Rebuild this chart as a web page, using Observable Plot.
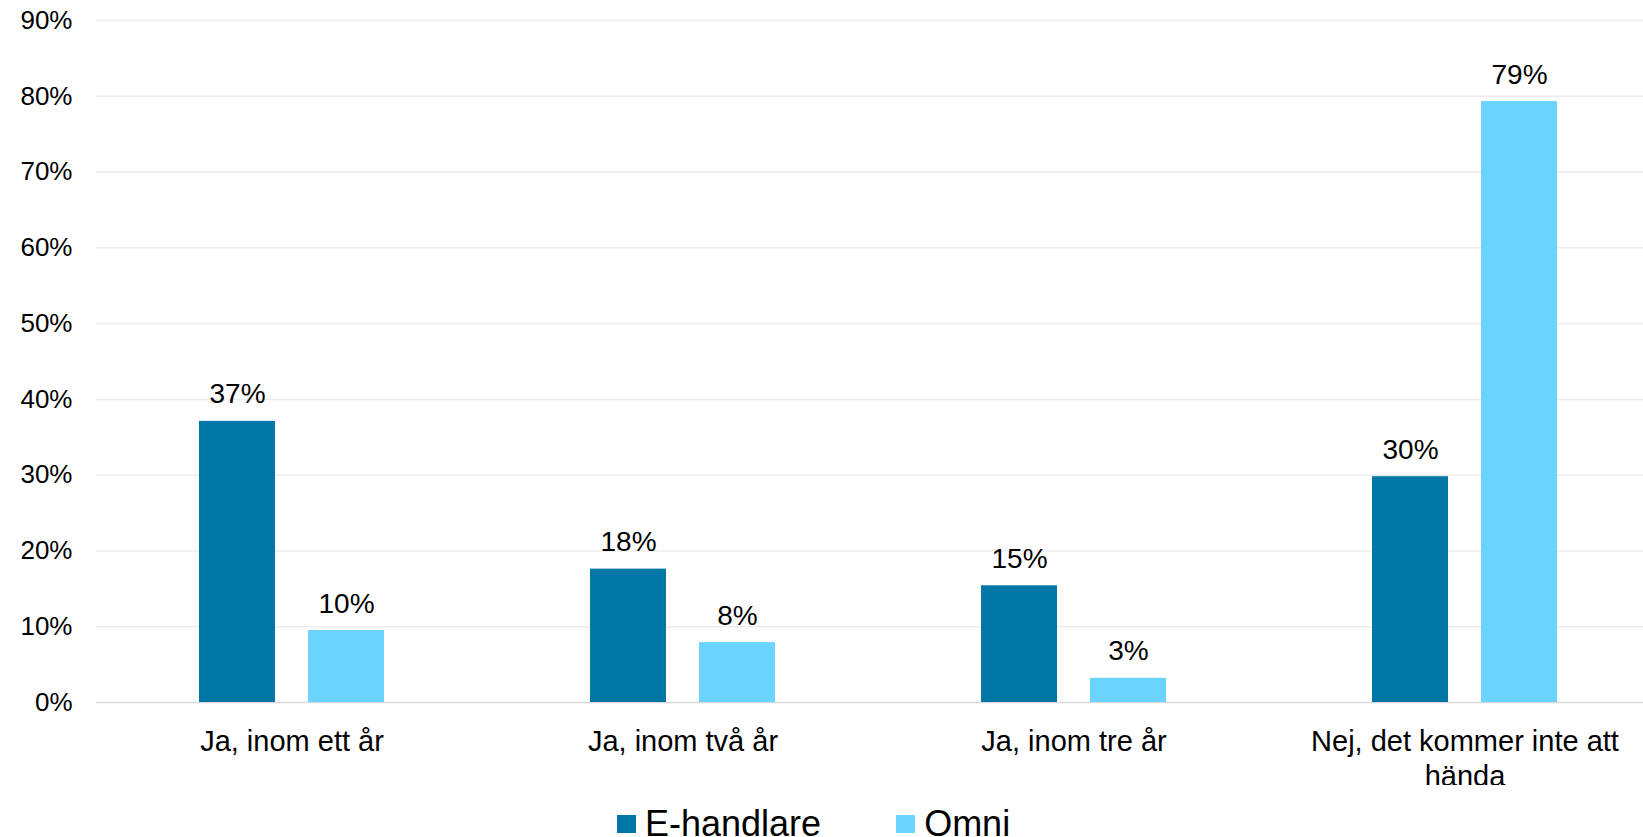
<!DOCTYPE html>
<html>
<head>
<meta charset="utf-8">
<script src="https://cdn.jsdelivr.net/npm/d3@7"></script>
<script src="https://cdn.jsdelivr.net/npm/@observablehq/plot@0.6"></script>
<style>
  html, body { margin: 0; padding: 0; background: #ffffff; overflow: hidden; }
  body { width: 1643px; height: 837px; position: relative; font-family: "Liberation Sans", Arial, sans-serif; }
  #chart { width: 1643px; height: 785px; overflow: hidden; }
  #chart svg { max-width: none !important; }
  #legend { position: absolute; top: 806px; left: 617px; display: flex; align-items: flex-start; font-size: 36px; line-height: 36px; color: #000; }
  #legend .item { display: flex; align-items: flex-start; }
  #legend .sw { width: 19px; height: 18px; margin-top: 9px; margin-right: 9px; }
  #legend .item + .item { margin-left: 75px; }
</style>
</head>
<body>
<div id="chart"></div>
<div id="legend"></div>
<script>
const categories = ["Ja, inom ett år", "Ja, inom två år", "Ja, inom tre år", "Nej, det kommer inte att hända"];
const series = ["E-handlare", "Omni"];
const eHandlare = [37.1, 17.6, 15.4, 29.8];
const omni = [9.5, 7.9, 3.2, 79.3];
const seriesColors = ["#0077a6", "#6bd3ff"];
const yTicks = [0, 10, 20, 30, 40, 50, 60, 70, 80, 90];

const values = [eHandlare, omni];
const data = [];
categories.forEach((c, i) => {
  series.forEach((s, j) => data.push({category: c, series: s, value: values[j][i]}));
});

const chart = Plot.plot({
  width: 1661,
  height: 785,
  marginLeft: 95,
  marginRight: 0,
  marginTop: 20,
  marginBottom: 83,
  style: {fontFamily: "'Liberation Sans', Arial, sans-serif", color: "#000", background: "#fff"},
  fx: {domain: categories, padding: 0, label: null},
  x: {domain: series, paddingInner: 0.3, paddingOuter: 0.93, axis: null},
  y: {domain: [0, 90], label: null},
  color: {domain: series, range: seriesColors},
  marks: [
    Plot.gridY(yTicks.filter(d => d > 0), {stroke: "#ececec", strokeOpacity: 1, strokeWidth: 1.5}),
    Plot.ruleY([0], {stroke: "#d9d9d9", strokeWidth: 1.5}),
    Plot.axisY(yTicks, {tickSize: 0, tickPadding: 24, tickFormat: d => d + "%", fontSize: 26, label: null}),
    Plot.axisFx({anchor: "bottom", tickSize: 0, tickPadding: 24, fontSize: 29, lineWidth: 13, lineHeight: 1.2, label: null}),
    Plot.barY(data, {fx: "category", x: "series", y: "value", fill: "series"}),
    Plot.text(data, {fx: "category", x: "series", y: "value", text: d => Math.round(d.value) + "%", lineAnchor: "bottom", dy: -18, fontSize: 28, fill: "#000"})
  ]
});
chart.style.maxWidth = "none";
chart.style.height = "785px";
chart.style.width = "1661px";
document.getElementById("chart").appendChild(chart);

const legend = document.getElementById("legend");
series.forEach((s, i) => {
  const item = document.createElement("div");
  item.className = "item";
  const sw = document.createElement("span");
  sw.className = "sw";
  sw.style.background = seriesColors[i];
  const label = document.createElement("span");
  label.textContent = s;
  item.appendChild(sw);
  item.appendChild(label);
  legend.appendChild(item);
});
</script>
</body>
</html>
